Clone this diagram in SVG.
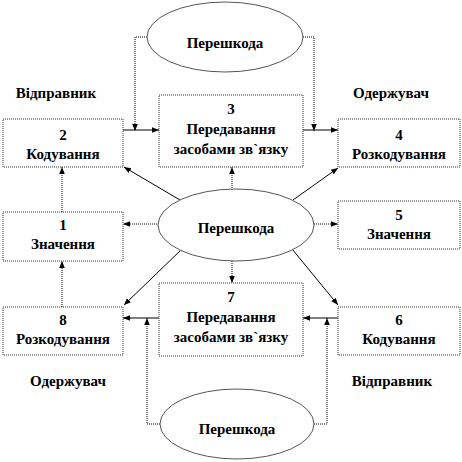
<svg xmlns="http://www.w3.org/2000/svg" width="462" height="462" viewBox="0 0 462 462">
<style>
.box{fill:#fff;stroke:#333;stroke-width:1;stroke-dasharray:1 1}
.ell{fill:#fff;stroke:#555;stroke-width:1}
.t{font-family:"Liberation Serif","Times New Roman",serif;font-weight:bold;font-size:15px;fill:#000;text-anchor:middle}
.s{stroke:#000;stroke-width:1;fill:none}
.d{stroke:#000;stroke-width:1;fill:none;stroke-dasharray:1 1}
</style>
<defs>
<marker id="a" viewBox="0 0 10 10" refX="10" refY="5" markerWidth="7" markerHeight="7" orient="auto" markerUnits="userSpaceOnUse">
<path d="M0,1 L10,5 L0,9 z" fill="#000"/>
</marker>
</defs>
<rect width="462" height="462" fill="#fff"/>
<g id="labels">
<text class="t" x="56" y="98">Відправник</text>
<text class="t" x="391" y="98">Одержувач</text>
<text class="t" x="68" y="386">Одержувач</text>
<text class="t" x="392" y="386">Відправник</text>
</g>
<g id="connectors">
<line class="s" x1="123" y1="130" x2="159" y2="130" marker-end="url(#a)"/>
<line class="s" x1="303" y1="130" x2="338" y2="130" marker-end="url(#a)"/>
<polyline class="d" points="147,37 135,37 135,131" marker-end="url(#a)"/>
<polyline class="d" points="303,37 314,37 314,131" marker-end="url(#a)"/>
<line class="s" x1="180" y1="200" x2="124" y2="167" marker-end="url(#a)"/>
<line class="d" x1="232" y1="190" x2="232" y2="167" marker-end="url(#a)"/>
<line class="s" x1="293" y1="200" x2="338" y2="168" marker-end="url(#a)"/>
<line class="d" x1="159" y1="224" x2="123" y2="224" marker-end="url(#a)"/>
<line class="d" x1="314" y1="224" x2="338" y2="224" marker-end="url(#a)"/>
<line class="s" x1="182" y1="249" x2="124" y2="305" marker-end="url(#a)"/>
<line class="d" x1="232" y1="261" x2="232" y2="283" marker-end="url(#a)"/>
<line class="s" x1="292" y1="249" x2="338" y2="305" marker-end="url(#a)"/>
<line class="d" x1="62" y1="212" x2="62" y2="167" marker-end="url(#a)"/>
<line class="d" x1="62" y1="307" x2="62" y2="261" marker-end="url(#a)"/>
<line class="s" x1="159" y1="318" x2="123" y2="318" marker-end="url(#a)"/>
<line class="s" x1="338" y1="318" x2="303" y2="318" marker-end="url(#a)"/>
<polyline class="d" points="160,424 147,424 147,318" marker-end="url(#a)"/>
<polyline class="d" points="314,424 327,424 327,318" marker-end="url(#a)"/>
</g>
<g id="noise-top">
<ellipse class="ell" cx="225" cy="37" rx="78" ry="35"/>
<text class="t" x="225" y="48">Перешкода</text>
</g>
<g id="noise-center">
<ellipse class="ell" cx="236" cy="225" rx="78" ry="36"/>
<text class="t" x="236" y="233">Перешкода</text>
</g>
<g id="noise-bottom">
<ellipse class="ell" cx="237" cy="424" rx="77" ry="35"/>
<text class="t" x="237" y="434">Перешкода</text>
</g>
<g id="n2">
<rect class="box" x="3" y="119" width="120" height="48"/>
<text class="t" x="63" y="140">2</text>
<text class="t" x="63" y="159">Кодування</text>
</g>
<g id="n3">
<rect class="box" x="159" y="95" width="144" height="72"/>
<text class="t" x="231" y="114">3</text>
<text class="t" x="231" y="134">Передавання</text>
<text class="t" x="231" y="154">засобами зв`язку</text>
</g>
<g id="n4">
<rect class="box" x="338" y="119" width="122" height="48"/>
<text class="t" x="399" y="140">4</text>
<text class="t" x="399" y="159">Розкодування</text>
</g>
<g id="n1">
<rect class="box" x="3" y="212" width="120" height="49"/>
<text class="t" x="63" y="230">1</text>
<text class="t" x="63" y="249">Значення</text>
</g>
<g id="n5">
<rect class="box" x="338" y="201" width="122" height="48"/>
<text class="t" x="399" y="220">5</text>
<text class="t" x="399" y="239">Значення</text>
</g>
<g id="n8">
<rect class="box" x="3" y="307" width="120" height="48"/>
<text class="t" x="63" y="325">8</text>
<text class="t" x="63" y="344">Розкодування</text>
</g>
<g id="n7">
<rect class="box" x="159" y="283" width="144" height="73"/>
<text class="t" x="231" y="302">7</text>
<text class="t" x="231" y="322">Передавання</text>
<text class="t" x="231" y="342">засобами зв`язку</text>
</g>
<g id="n6">
<rect class="box" x="338" y="307" width="122" height="48"/>
<text class="t" x="399" y="325">6</text>
<text class="t" x="399" y="344">Кодування</text>
</g>
</svg>
